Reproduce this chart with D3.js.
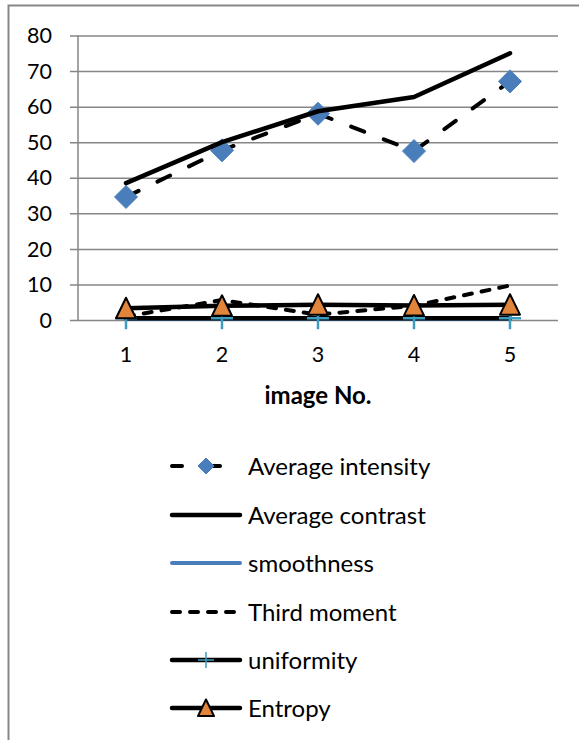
<!DOCTYPE html>
<html>
<head>
<meta charset="utf-8">
<script src="https://cdn.jsdelivr.net/npm/d3@7"></script>
<style>
  html, body { margin: 0; padding: 0; background: #fff; }
  svg { display: block; }
  text { font-family: Lato, "Open Sans", sans-serif; fill: #000; }
</style>
</head>
<body>
<svg id="chart" width="579" height="740"></svg>
<script>
// Image numbers on the category axis
const images = ["1", "2", "3", "4", "5"];

// Texture features per image
const averageIntensity = [34.6, 47.7, 58.0, 47.5, 67.1];
const averageContrast  = [38.5, 50.0, 58.7, 62.7, 75.0];
const smoothness       = [0.3, 0.3, 0.3, 0.3, 0.3];
const thirdMoment      = [1.0, 5.6, 1.5, 4.0, 9.7];
const uniformity       = [0.5, 0.5, 0.5, 0.5, 0.5];
const entropy          = [3.3, 4.0, 4.3, 4.1, 4.3];

const yTicks = [0, 10, 20, 30, 40, 50, 60, 70, 80];
const xTitle = "image No.";
const seriesNames = ["Average intensity", "Average contrast", "smoothness",
                     "Third moment", "uniformity", "Entropy"];

const svg = d3.select("#chart");

// outer chart frame (runs off the right and bottom edges)
svg.append("rect")
  .attr("x", 8.5).attr("y", 5.5)
  .attr("width", 600).attr("height", 760)
  .attr("fill", "none").attr("stroke", "#878787").attr("stroke-width", 2);

const plot = { left: 78, right: 558, top: 35.5, bottom: 320 };

const x = d3.scaleBand().domain(images).range([plot.left, plot.right]).padding(0);
const y = d3.scaleLinear().domain([0, 80]).range([plot.bottom, plot.top]);
const cx = d => x(d) + x.bandwidth() / 2;

// horizontal gridlines with short outer tick marks
const gy = svg.append("g").attr("transform", `translate(${plot.right},0)`);
gy.call(d3.axisLeft(y).tickValues(yTicks).tickSize(plot.right - plot.left + 8).tickFormat(""));
gy.select(".domain").remove();
gy.selectAll(".tick line").attr("stroke", "#868686").attr("stroke-width", 1.5);

// vertical value axis line
svg.append("line")
  .attr("x1", plot.left).attr("x2", plot.left)
  .attr("y1", y(80)).attr("y2", y(0))
  .attr("stroke", "#868686").attr("stroke-width", 1.5);

// value labels
svg.append("g").selectAll("text").data(yTicks).join("text")
  .attr("x", 52).attr("y", d => y(d)).attr("dy", "0.36em")
  .attr("text-anchor", "end").style("font-size", "21.5px")
  .text(d => d);

// category labels
svg.append("g").selectAll("text").data(images).join("text")
  .attr("x", d => cx(d)).attr("y", 354).attr("dy", "0.36em")
  .attr("text-anchor", "middle").style("font-size", "21.5px")
  .text(d => d);

// axis title
svg.append("text")
  .attr("x", 318).attr("y", 395).attr("dy", "0.36em")
  .attr("text-anchor", "middle").style("font-size", "24px").style("font-weight", "bold")
  .text(xTitle);

const line = d3.line().x((d, i) => cx(images[i])).y(d => y(d));

const BLUE = "#4a7ebb", TEAL = "#3d9dbf", ORANGE = "#e1843c";

const styles = [
  { data: averageIntensity, stroke: "#000", width: 4, dash: "14,21", cap: "round", marker: "diamond" },
  { data: averageContrast,  stroke: "#000", width: 4.5, dash: null, cap: "round", marker: null },
  { data: smoothness,       stroke: BLUE, width: 4, dash: null, cap: "round", marker: null },
  { data: thirdMoment,      stroke: "#000", width: 4, dash: "8,10", cap: "round", marker: null },
  { data: uniformity,       stroke: "#000", width: 4.5, dash: null, cap: "round", marker: "plus" },
  { data: entropy,          stroke: "#000", width: 4.5, dash: null, cap: "round", marker: "triangle" }
];

function drawMarker(g, kind, px, py, s, w) {
  if (kind === "diamond") {
    g.append("path")
      .attr("d", `M${px},${py - s}L${px + s},${py}L${px},${py + s}L${px - s},${py}Z`)
      .attr("fill", BLUE).attr("stroke", BLUE).attr("stroke-width", 1);
  } else if (kind === "plus") {
    g.append("line").attr("x1", px - s).attr("x2", px + s).attr("y1", py).attr("y2", py)
      .attr("stroke", TEAL).attr("stroke-width", w);
    g.append("line").attr("x1", px).attr("x2", px).attr("y1", py - s).attr("y2", py + s)
      .attr("stroke", TEAL).attr("stroke-width", w);
  } else if (kind === "triangle") {
    g.append("path")
      .attr("d", `M${px},${py - s}L${px + s * 0.95},${py + s * 0.95}L${px - s * 0.95},${py + s * 0.95}Z`)
      .attr("fill", ORANGE).attr("stroke", "#000").attr("stroke-width", 2).attr("stroke-linejoin", "round");
  }
}

const series = svg.append("g");
styles.forEach(st => {
  const g = series.append("g");
  g.append("path").attr("d", line(st.data))
    .attr("fill", "none").attr("stroke", st.stroke).attr("stroke-width", st.width)
    .attr("stroke-dasharray", st.dash).attr("stroke-linecap", st.cap)
    .attr("stroke-linejoin", "round");
  if (st.marker) {
    const size = st.marker === "diamond" ? 11.5 : (st.marker === "plus" ? 11 : 10.5);
    st.data.forEach((v, i) => drawMarker(g, st.marker, cx(images[i]), y(v), size, 2.5));
  }
});

// legend
const legend = svg.append("g");
const rowY = [466, 515, 563, 612, 660, 708];
seriesNames.forEach((name, i) => {
  const st = styles[i];
  const g = legend.append("g");
  const yy = rowY[i];
  g.append("line").attr("x1", 172).attr("x2", 240).attr("y1", yy).attr("y2", yy)
    .attr("stroke", st.stroke).attr("stroke-width", st.width)
    .attr("stroke-dasharray", st.dash === "14,21" ? "10,28" : st.dash)
    .attr("stroke-linecap", st.cap);
  if (st.marker) {
    const size = st.marker === "diamond" ? 8 : (st.marker === "plus" ? 8 : 8.5);
    drawMarker(g, st.marker, 206, yy, size, 1.5);
  }
  g.append("text").attr("x", 248).attr("y", yy).attr("dy", "0.36em")
    .style("font-size", "24px").text(name);
});
</script>
</body>
</html>
